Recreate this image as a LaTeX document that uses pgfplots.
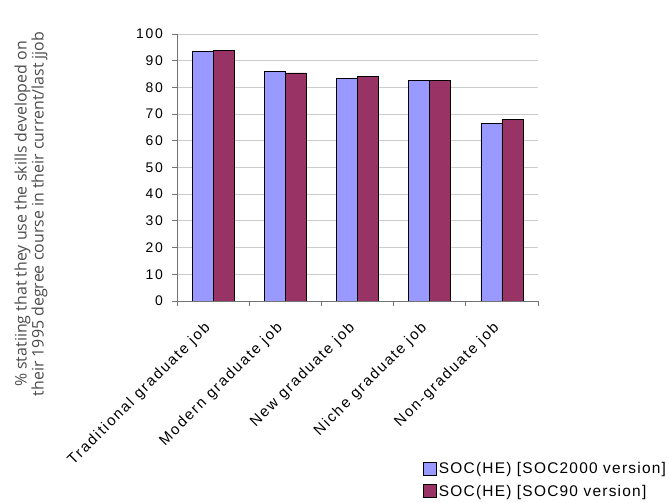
\documentclass[border=0pt]{standalone}
\usepackage{fontspec}
\setmainfont{Liberation Sans}[LetterSpace=12]
\newfontfamily\legfont{Liberation Sans}[LetterSpace=8]
\newfontfamily\ylfont{Open Sans}
\usepackage{pgfplots}
\pgfplotsset{compat=1.18}
\definecolor{cblue}{RGB}{153,153,255}
\definecolor{cred}{RGB}{153,51,102}
\begin{document}
\begin{tikzpicture}[x=1bp,y=1bp]
\path[use as bounding box] (0,0) rectangle (669,503);
\begin{axis}[
  at={(177bp,202bp)}, anchor=south west,
  scale only axis, width=361bp, height=267bp,
  ybar=0pt, bar width=21bp,
  xmin=-0.5, xmax=4.5, ymin=0, ymax=100,
  ytick={0,10,...,100},
  xtick={0,1,2,3,4},
  xticklabels={Traditional graduate job, Modern graduate job, New graduate job, Niche graduate job, Non-graduate job},
  minor xtick={-0.5,0.5,1.5,2.5,3.5,4.5},
  major x tick style={draw=none},
  tick align=outside,
  major tick length=5bp, minor tick length=5bp,
  axis x line*=bottom, axis y line*=left,
  axis line style={black!55, line width=0.8bp},
  tick style={black!55, line width=0.8bp},
  ymajorgrids, grid style={black!20, line width=0.8bp},
  /pgf/number format/assume math mode=true,
  tick label style={font=\fontsize{14}{16}\selectfont},
  xticklabel style={font=\fontsize{15}{17}\selectfont, xshift=-10bp, yshift=-13bp, rotate=45, anchor=north east, inner sep=1bp},
  yticklabel style={inner sep=1bp, xshift=-8bp},
  legend style={draw=none, fill=none, at={(0.681,-0.596)}, anchor=north west,
    font=\legfont\fontsize{15.5}{17}\selectfont, row sep=6bp, inner sep=0pt,
    legend cell align=left},
  legend image code/.code={\draw[#1, line width=0.8bp, draw=black] (0bp,-6.5bp) rectangle (13bp,6.5bp);},
]
\addplot[fill=cblue, draw=black, line width=0.8bp] coordinates {(0,93.6) (1,86.0) (2,83.5) (3,82.6) (4,66.5)};
\addplot[fill=cred, draw=black, line width=0.8bp] coordinates {(0,93.9) (1,85.4) (2,84.1) (3,82.6) (4,68.0)};
\legend{SOC(HE) [SOC2000 version], SOC(HE) [SOC90 version]}
\end{axis}
\node[rotate=90, align=center, font=\ylfont\fontsize{16}{17}\selectfont, text=black!70] at (31,289)
  {\% statiing that they use the skills developed on\\their 1995 degree course in their current/last jjob};
\end{tikzpicture}
\end{document}
